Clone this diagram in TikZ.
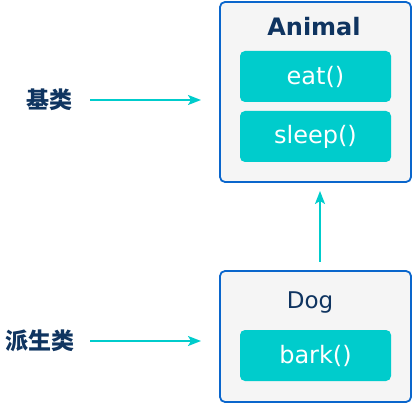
\documentclass[tikz,border=0pt]{standalone}
\usepackage{fontspec}
\setmainfont{DejaVu Sans}
\newfontfamily\cjk{Noto Sans CJK SC}
\usetikzlibrary{arrows.meta}
\definecolor{navy}{HTML}{0F3460}
\definecolor{boxblue}{HTML}{0A66CC}
\definecolor{teal}{HTML}{00CCCC}
\definecolor{boxbg}{HTML}{F5F5F5}
\tikzset{
  classbox/.style={draw=boxblue, fill=boxbg, line width=1.8pt, rounded corners=5pt},
  method/.style={fill=teal, rounded corners=5pt, text=white, font=\fontsize{24}{28}\selectfont, minimum width=151pt, minimum height=51pt, inner sep=0pt},
  lbl/.style={text=navy, font=\cjk\bfseries\fontsize{23}{27}\selectfont, inner sep=0pt},
  link/.style={draw=teal, line width=2pt, -{Stealth[length=13pt,width=10pt,inset=3pt]}},
}
\begin{document}
\begin{tikzpicture}[x=1pt,y=-1pt]
\useasboundingbox (0,0) rectangle (412,403);
% Animal box
\node[classbox, minimum width=191pt, minimum height=180pt, inner sep=0pt] (animal) at (315.5,92) {};
\node[text=navy, font=\bfseries\fontsize{24}{28}\selectfont, inner sep=0pt] (animalt) at (314,27) {Animal};
\node[method] (eat) at (315.5,76.5) {eat()};
\node[method] (sleep) at (315.5,136.5) {sleep()};
% Dog box
\node[classbox, minimum width=191pt, minimum height=131pt, inner sep=0pt] (dog) at (315.5,336.5) {};
\node[text=navy, font=\fontsize{23}{27}\selectfont, inner sep=0pt] (dogt) at (310,303) {Dog};
\node[method] (bark) at (315.5,355.5) {bark()};
% inheritance arrow
\coordinate (up1) at (320,262);
\coordinate (up2) at (320,191);
\draw[link] (up1) -- (up2);
% labels
\node[lbl] (base) at (49,100) {基类};
\node[lbl] (derived) at (40,341) {派生类};
\coordinate (a1) at (90,100);
\coordinate (a2) at (201,100);
\coordinate (b1) at (90,341);
\coordinate (b2) at (201,341);
\draw[link] (a1) -- (a2);
\draw[link] (b1) -- (b2);
\end{tikzpicture}
\end{document}
